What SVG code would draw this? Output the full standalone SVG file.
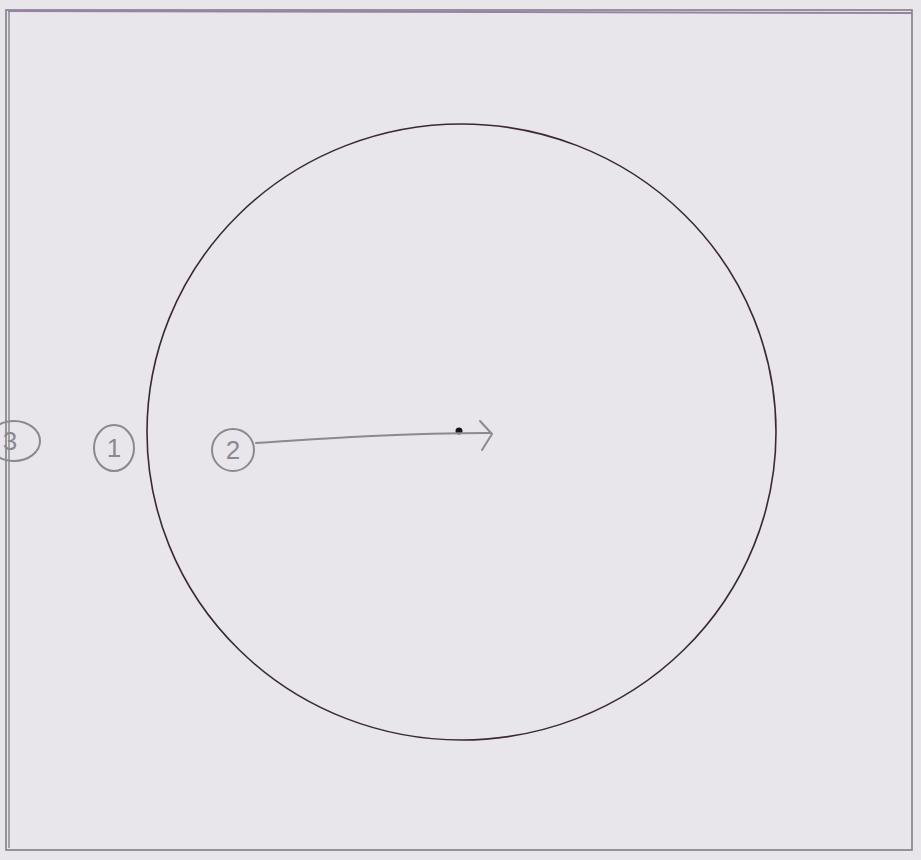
<svg xmlns="http://www.w3.org/2000/svg" width="921" height="860" viewBox="0 0 921 860">
<style>
.pencil{fill:none;stroke:#8a8890;stroke-width:2;stroke-linecap:round;stroke-linejoin:round}
.lbl{font-family:"Liberation Sans",Arial,sans-serif;font-size:26px;fill:#8a8890;text-anchor:middle}
</style>
<rect x="0" y="0" width="921" height="860" fill="#e9e6eb"/>
<g id="frame">
<path d="M6 10 H912 V850 H6 Z" fill="none" stroke="#7a7880" stroke-width="1.5"/>
<line x1="9" y1="12" x2="9" y2="848" stroke="#8a8890" stroke-width="1.5"/>
<line x1="8" y1="11" x2="912" y2="13" stroke="#9a80a8" stroke-width="2"/>
</g>
<g id="circle">
<ellipse cx="461.5" cy="432" rx="314.5" ry="308" fill="none" stroke="#3a2a30" stroke-width="1.6"/>
</g>
<g id="center">
<circle cx="459" cy="431" r="3.5" fill="#1a1416"/>
</g>
<g id="label3">
<ellipse cx="14" cy="441" rx="26" ry="20" class="pencil"/>
<text x="10" y="450" class="lbl">3</text>
</g>
<g id="label1">
<ellipse cx="114" cy="448" rx="20" ry="23" class="pencil"/>
<text x="114" y="457" class="lbl">1</text>
</g>
<g id="label2">
<ellipse cx="233" cy="450" rx="21" ry="21" class="pencil"/>
<text x="233" y="459" class="lbl">2</text>
</g>
<g id="connectors">
<path d="M256 443 C330 438 400 433 490 433" class="pencil"/>
<path d="M480 421 L492 434 L482 450" class="pencil"/>
</g>
</svg>
